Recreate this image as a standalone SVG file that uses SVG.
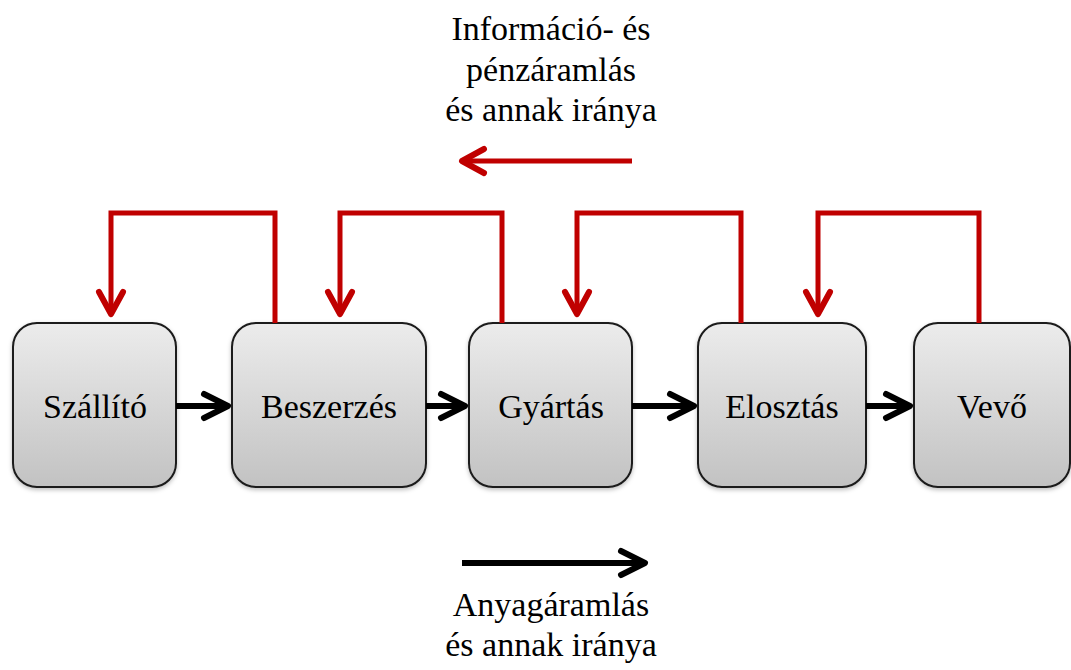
<svg xmlns="http://www.w3.org/2000/svg" width="1071" height="670" viewBox="0 0 1071 670">
  <style>
    .lbl { font-family: "Liberation Serif", "Times New Roman", serif; font-size: 34px; fill: #000; text-anchor: middle; }
    .box { fill: url(#boxFill); stroke: #1a1a1a; stroke-width: 2; filter: url(#soft); }
    .red { fill: none; stroke: #c00000; stroke-width: 5; stroke-linejoin: miter; }
    .blk { fill: none; stroke: #000; stroke-width: 6; }
  </style>
  <defs>
    <linearGradient id="boxFill" x1="0" y1="0" x2="0" y2="1">
      <stop offset="0" stop-color="#ececec"/>
      <stop offset="1" stop-color="#c2c2c2"/>
    </linearGradient>
    <filter id="soft" x="-10%" y="-10%" width="120%" height="125%">
      <feDropShadow dx="0" dy="2" stdDeviation="2" flood-color="#000" flood-opacity="0.25"/>
    </filter>
    <marker id="headRed" markerUnits="userSpaceOnUse" markerWidth="1" markerHeight="1" orient="auto" overflow="visible">
      <path d="M-22,-12 L0,0 L-22,12" fill="none" stroke="#c00000" stroke-width="6" stroke-linecap="round" stroke-linejoin="round"/>
    </marker>
    <marker id="headBlk" markerUnits="userSpaceOnUse" markerWidth="1" markerHeight="1" orient="auto" overflow="visible">
      <path d="M-24,-12 L0,0 L-24,12" fill="none" stroke="#000" stroke-width="6" stroke-linecap="round" stroke-linejoin="round"/>
    </marker>
  </defs>

  <!-- legend: information / money flow -->
  <g id="legend-info">
    <text class="lbl" x="551" y="40">Információ- és</text>
    <text class="lbl" x="551" y="81">pénzáramlás</text>
    <text class="lbl" x="551" y="121">és annak iránya</text>
    <line class="red" x1="632" y1="161" x2="462" y2="161" marker-end="url(#headRed)"/>
  </g>

  <!-- legend: material flow -->
  <g id="legend-material">
    <line class="blk" x1="462" y1="563" x2="645" y2="563" marker-end="url(#headBlk)"/>
    <text class="lbl" x="551" y="616">Anyagáramlás</text>
    <text class="lbl" x="551" y="656">és annak iránya</text>
  </g>

  <!-- supply chain stages -->
  <g id="node-szallito">
    <rect class="box" x="13" y="323" width="163" height="164" rx="24"/>
    <text class="lbl" x="95" y="418">Szállító</text>
  </g>
  <g id="node-beszerzes">
    <rect class="box" x="232" y="323" width="194" height="164" rx="24"/>
    <text class="lbl" x="329" y="418">Beszerzés</text>
  </g>
  <g id="node-gyartas">
    <rect class="box" x="469" y="323" width="163" height="164" rx="24"/>
    <text class="lbl" x="551" y="418">Gyártás</text>
  </g>
  <g id="node-elosztas">
    <rect class="box" x="698" y="323" width="168" height="164" rx="24"/>
    <text class="lbl" x="782" y="418">Elosztás</text>
  </g>
  <g id="node-vevo">
    <rect class="box" x="914" y="323" width="156" height="164" rx="24"/>
    <text class="lbl" x="992" y="418">Vevő</text>
  </g>

  <!-- connectors -->
  <g id="connectors">
    <!-- material flow, left to right -->
    <line class="blk" x1="176" y1="406" x2="228" y2="406" marker-end="url(#headBlk)"/>
    <line class="blk" x1="426" y1="406" x2="465" y2="406" marker-end="url(#headBlk)"/>
    <line class="blk" x1="632" y1="406" x2="694" y2="406" marker-end="url(#headBlk)"/>
    <line class="blk" x1="866" y1="406" x2="910" y2="406" marker-end="url(#headBlk)"/>
    <!-- information / money flow, right to left -->
    <path class="red" d="M275,323 V213 H111 V314" marker-end="url(#headRed)"/>
    <path class="red" d="M502,323 V213 H340 V314" marker-end="url(#headRed)"/>
    <path class="red" d="M741,323 V213 H577 V314" marker-end="url(#headRed)"/>
    <path class="red" d="M979,323 V213 H818 V314" marker-end="url(#headRed)"/>
  </g>
</svg>
